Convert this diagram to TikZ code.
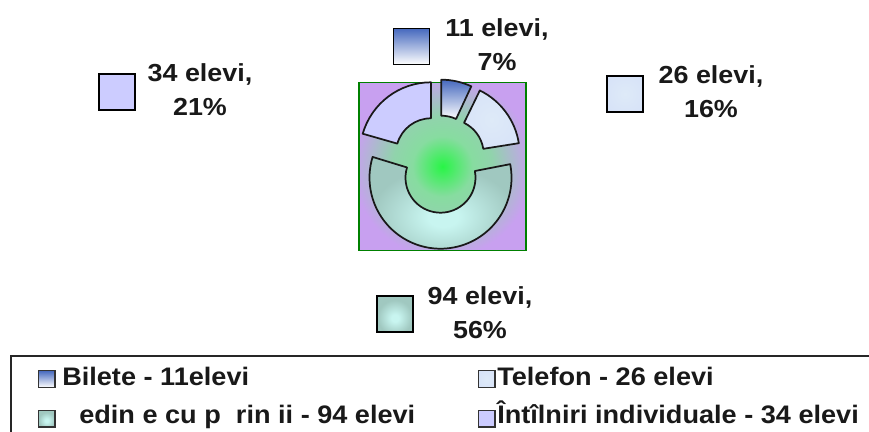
\documentclass[tikz,border=0pt]{standalone}
\usepackage{fontspec}
\setmainfont{Liberation Sans}
\newfontfamily\lblfont[FakeStretch=1.09]{Liberation Sans Bold}
\newfontfamily\legfont[FakeStretch=1.07]{Liberation Sans Bold}
\definecolor{framegreen}{RGB}{0,128,0}
\definecolor{plotpurple}{RGB}{200,160,240}
\definecolor{plotgreen}{RGB}{40,245,70}
\definecolor{midgreen}{RGB}{135,220,160}
\definecolor{purplefill}{RGB}{204,204,255}
\definecolor{telfill}{RGB}{222,234,248}
\definecolor{bluetop}{RGB}{70,105,190}
\definecolor{tealhi}{RGB}{200,245,240}
\definecolor{tealedge}{RGB}{160,200,192}
\pgfdeclareradialshading{plotbg}{\pgfpointorigin}{
  color(0bp)=(plotgreen); color(9bp)=(midgreen); color(15bp)=(midgreen!85!plotpurple); color(22bp)=(midgreen!35!plotpurple); color(27bp)=(plotpurple); color(100bp)=(plotpurple)}
\pgfdeclareradialshading{tealshade}{\pgfpoint{0bp}{-6bp}}{
  color(0bp)=(tealhi); color(5bp)=(tealhi); color(24bp)=(tealedge); color(100bp)=(tealedge)}
\pgfdeclareradialshading{telshade}{\pgfpoint{0bp}{0bp}}{
  color(0bp)=(telfill); color(100bp)=(telfill!90!blue)}
\pgfdeclareradialshading{purpleshade}{\pgfpoint{0bp}{0bp}}{
  color(0bp)=(purplefill); color(100bp)=(purplefill)}
\pgfdeclareverticalshading{blueshade}{100bp}{
  color(0bp)=(white); color(25bp)=(white); color(75bp)=(bluetop); color(100bp)=(bluetop)}
\tikzset{
  swatchbig/.style={draw=black,line width=1.1pt,minimum size=27pt,inner sep=0pt,outer sep=0pt},
  swatchsmall/.style={draw=black!80,line width=.9pt,minimum size=12.5pt,inner sep=0pt,outer sep=0pt},
  lbl/.style={font=\lblfont\fontsize{18.5}{25.5}\selectfont,align=center,inner sep=0pt,text=black!90},
  leg/.style={font=\legfont\fontsize{19}{20}\selectfont,anchor=base west,inner sep=0pt,text=black!90},
  sectorline/.style={draw=black!90,line width=1.3pt,line join=round},
  frameline/.style={draw=black!85,line width=1.3pt}
}
\newcommand{\ringpiece}[5]{%
  \begin{scope}[shift={(#1,#2)}]
    \path[sectorline,shading=#5] (#3:71) arc[start angle=#3,end angle=#4,radius=71]
      -- (#4:35) arc[start angle=#4,end angle=#3,radius=35] -- cycle;
  \end{scope}}
\begin{document}
\begin{tikzpicture}[x=.75pt,y=.75pt]
\useasboundingbox (0,0) rectangle (869,432);
% plot area
\node[draw=framegreen,line width=1.1pt,minimum width=125pt,minimum height=126pt,inner sep=0pt,shading=plotbg] (plot) at (442.5,265.5) {};
% sectors
\ringpiece{441.3}{281.3}{90}{65}{blueshade}
\ringpiece{448.7}{277.7}{64}{9}{telshade}
\ringpiece{431}{278.7}{90}{164}{purpleshade}
\ringpiece{440.5}{254.3}{11}{-197}{tealshade}
% data labels
\node[swatchbig,shading=blueshade] (s1) at (411.3,385.5) {};
\node[lbl] (l1) at (497,387) {11 elevi,\\7\%};
\node[swatchbig,shading=telshade] (s2) at (625,338) {};
\node[lbl] (l2) at (711,340) {26 elevi,\\16\%};
\node[swatchbig,shading=purpleshade] (s3) at (117,340) {};
\node[lbl] (l3) at (200,342) {34 elevi,\\21\%};
\node[swatchbig,shading=tealshade] (s4) at (395,118) {};
\node[lbl] (l4) at (480,119) {94 elevi,\\56\%};
% legend frame
\coordinate (fa) at (10.7,0);
\coordinate (fb) at (10.7,76.3);
\coordinate (fc) at (869,76.3);
\draw[frameline] (fa) -- (fb) -- (fc);
% legend
\node[swatchsmall,shading=blueshade] (k1) at (46.7,53) {};
\node[leg] (t1) at (62,46) {Bilete - 11elevi};
\node[swatchsmall,shading=telshade] (k2) at (486.7,53) {};
\node[leg] (t2) at (497,46) {Telefon - 26 elevi};
\node[swatchsmall,shading=tealshade] (k3) at (46.7,13.3) {};
\node[leg] (t3) at (79,8.7) {edin e cu p\hspace{.3em} rin ii - 94 elevi};
\node[swatchsmall,shading=purpleshade] (k4) at (486.7,13.3) {};
\node[leg] (t4) at (497,8.7) {Întîlniri individuale - 34 elevi};
\end{tikzpicture}
\end{document}
